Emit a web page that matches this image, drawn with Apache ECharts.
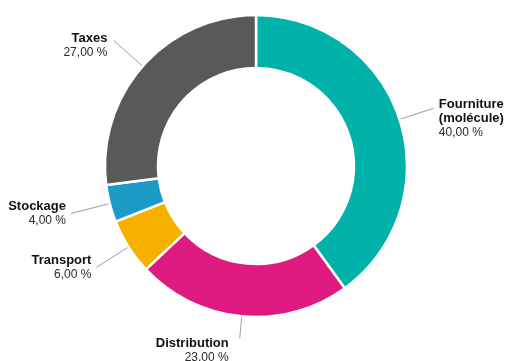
<!DOCTYPE html>
<html>
<head>
<meta charset="utf-8">
<style>
  html, body { margin: 0; padding: 0; background: #ffffff; }
  #chart { width: 505px; height: 361px; }
</style>
<script src="https://cdn.jsdelivr.net/npm/echarts@6/dist/echarts.min.js"></script>
</head>
<body>
<div id="chart"></div>
<script>
// Cost breakdown of the gas price (share of each component, %)
const categories = ['Fourniture\n(molécule)', 'Distribution', 'Transport', 'Stockage', 'Taxes'];
const shares = [40, 23, 6, 4, 27];
const decimalMarks = [',', '.', ',', ',', ','];
const colors = ['#00b2aa', '#df1b82', '#f8b000', '#1d9bc7', '#58595b'];

// Leader line length and label padding (top, right) for each slice
const lineLengths = [36, 22, 38, 40, 39];
const labelPadTop = [20, 24, 0, 0, 10];
const labelPadRight = [0, 6, 0, 0, 1];

const fontFamily = '"Liberation Sans", Arial, Helvetica, sans-serif';

const data = categories.map((name, i) => ({
  name: name,
  value: shares[i],
  itemStyle: { color: colors[i] },
  labelLine: { length: lineLengths[i], length2: 0 },
  label: { padding: [labelPadTop[i], labelPadRight[i], 0, 0] }
}));

const chart = echarts.init(document.getElementById('chart'), null, { renderer: 'canvas' });
chart.setOption({
  animation: false,
  backgroundColor: '#ffffff',
  series: [{
    type: 'pie',
    center: [256, 166],
    radius: [98, 151],
    startAngle: 90,
    clockwise: true,
    avoidLabelOverlap: false,
    itemStyle: { borderColor: '#ffffff', borderWidth: 2.5 },
    label: {
      show: true,
      position: 'outside',
      distanceToLabelLine: 5,
      fontFamily: fontFamily,
      formatter: (p) => {
        const i = p.dataIndex;
        const txt = shares[i].toFixed(2).replace('.', decimalMarks[i]) + ' %';
        return '{name|' + p.name + '}\n{val|' + txt + '}';
      },
      rich: {
        name: { fontFamily: fontFamily, fontSize: 13, fontWeight: 'bold', color: '#111111', lineHeight: 14 },
        val: { fontFamily: fontFamily, fontSize: 12, color: '#2a2a2a', lineHeight: 14 }
      }
    },
    labelLine: {
      show: true,
      length: 36,
      length2: 0,
      lineStyle: { color: '#9d9db0', width: 1 }
    },
    emphasis: { disabled: true },
    data: data
  }]
});
</script>
</body>
</html>
